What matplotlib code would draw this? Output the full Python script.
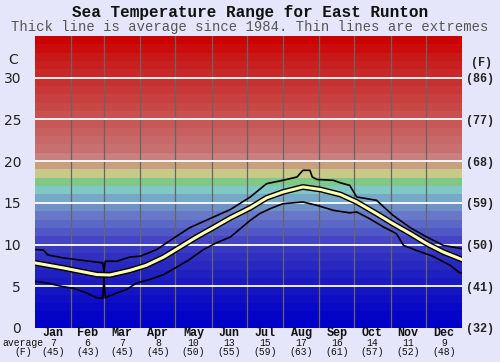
import matplotlib
matplotlib.use('Agg')
import matplotlib.pyplot as plt
import matplotlib.patheffects as pe
import numpy as np

# month info
months = ['Jan','Feb','Mar','Apr','May','Jun','Jul','Aug','Sep','Oct','Nov','Dec']
month_days = [31,28,31,30,31,30,31,31,30,31,30,31]
avg_c = [7,6,7,8,10,13,15,17,16,14,11,9]
avg_f = [45,43,45,45,50,55,59,63,61,57,52,48]

# left / right scale labels
c_ticks = [0,5,10,15,20,25,30]
f_labels = ['(32)','(41)','(50)','(59)','(68)','(77)','(86)']

# average line (day of year, deg C)
avg_day = [0,24,53,64,81,95,110,124,138,152,167,184,198,212,229,244,261,275,292,306,321,335,349,365]
avg_val = [7.8,7.2,6.4,6.35,6.9,7.5,8.5,9.7,10.9,12.0,13.2,14.4,15.6,16.3,16.9,16.6,16.0,15.1,13.7,12.5,11.3,10.1,9.1,8.2]

# highest recorded
max_day = [0,7,11,24,38,58,59,60,70,81,90,104,120,132,151,167,184,198,212,224,229,235,237,241,255,261,269,275,292,306,321,335,349,365]
max_val = [9.4,9.35,8.75,8.4,8.15,7.8,6.7,8.0,8.0,8.5,8.6,9.4,10.9,12.0,13.2,14.2,15.7,17.3,17.7,18.1,18.9,18.9,18.1,17.8,17.7,17.4,17.1,15.7,15.3,13.5,12.0,10.9,9.9,9.5]

# lowest recorded
min_day = [0,10,24,33,44,53,58,59,60,63,70,78,87,98,110,120,132,144,155,167,184,192,201,212,229,241,255,269,275,286,298,309,315,326,340,355,363,365]
min_val = [5.6,5.4,4.95,4.75,4.2,3.6,3.6,6.2,3.6,3.8,4.2,4.6,5.4,5.8,6.4,7.2,8.2,9.4,10.2,10.9,12.9,13.7,14.3,14.9,15.1,14.7,14.1,13.8,13.9,13.1,12.1,11.3,9.9,9.3,8.6,7.5,6.6,6.6]

# background band colours, one per degree 0..34
band_colors = ['#0000c8','#0404c8','#0808c6','#0e0ec4','#1414c2','#1a1ac2','#2020c0','#2828c0',
               '#3030c0','#3838c2','#4444c4','#5058c8','#5c68c8','#6878c8','#7090c8','#78a8c8',
               '#80c8c8','#80c888','#c8c888','#c8a080','#c88080','#c87070','#c86868','#c86060',
               '#c85858','#c85050','#c84848','#c84040','#c83838','#c83030','#c82828','#c82020',
               '#c81818','#cc0c0c','#cc0000']

fig = plt.figure(figsize=(5, 3.62), dpi=100, facecolor='#e6e6fa')
ax = fig.add_axes([0.07, 0.094, 0.854, 0.8066])
ax.set_xlim(0, 365)
ax.set_ylim(0, 35)

for i in range(35):
    ax.axhspan(i, i + 1, color=band_colors[i], lw=0, zorder=0)

bounds = np.cumsum(month_days)
for b in bounds[:-1]:
    ax.axvline(b, color='#666666', lw=0.9, zorder=1)
for t in c_ticks[1:]:
    ax.axhline(t, color='white', lw=1.3, zorder=1)

ax.plot(max_day, max_val, color='black', lw=1.2, zorder=3)
ax.plot(min_day, min_val, color='black', lw=1.2, zorder=3)
ax.plot(avg_day, avg_val, color='#ffffb4', lw=2.2, zorder=4,
        path_effects=[pe.Stroke(linewidth=4.2, foreground='black'), pe.Normal()])

for s in ax.spines.values():
    s.set_visible(False)
ax.set_xticks([])
ax.set_yticks(c_ticks)
ax.set_yticklabels([str(t) for t in c_ticks], fontsize=10, color='#222222')
ax.tick_params(axis='y', length=0, pad=10)

ax2 = ax.twinx()
ax2.set_ylim(0, 35)
ax2.set_yticks(c_ticks)
ax2.set_yticklabels(f_labels, fontsize=8.5, family='Liberation Mono', fontweight='bold', color='#222222')
ax2.tick_params(axis='y', length=0, pad=3)
for s in ax2.spines.values():
    s.set_visible(False)

ax.text(-0.052, 0.918, 'C', transform=ax.transAxes, ha='center', va='center', fontsize=10, color='#222222')
ax.text(1.045, 0.908, '(F)', transform=ax.transAxes, ha='center', va='center', fontsize=8.5,
        family='Liberation Mono', fontweight='bold', color='#222222')

starts = np.concatenate([[0], bounds[:-1]])
for m in range(12):
    xc = starts[m] + month_days[m] / 2
    tr = ax.get_xaxis_transform()
    ax.text(xc, -0.017, months[m], transform=tr, ha='center', va='center', fontsize=8.5,
            family='Liberation Mono', fontweight='bold', color='#111111')
    ax.text(xc, -0.052, str(avg_c[m]), transform=tr, ha='center', va='center', fontsize=7,
            family='Liberation Mono', color='#111111')
    ax.text(xc, -0.084, '(%d)' % avg_f[m], transform=tr, ha='center', va='center', fontsize=7,
            family='Liberation Mono', color='#111111')

fig.text(0.004, 1 - 343 / 362, 'average', ha='left', va='center', fontsize=7, family='Liberation Mono', color='#111111')
fig.text(0.046, 1 - 352 / 362, '(F)', ha='center', va='center', fontsize=7, family='Liberation Mono', color='#111111')

fig.text(0.5, 1 - 13 / 362, 'Sea Temperature Range for East Runton', ha='center', va='center',
         fontsize=11.5, family='Liberation Mono', fontweight='bold', color='#111111')
fig.text(0.5, 1 - 27 / 362, 'Thick line is average since 1984. Thin lines are extremes', ha='center',
         va='center', fontsize=10, family='Liberation Mono', color='#555555')

fig.savefig('out.png', dpi=100, facecolor=fig.get_facecolor())
